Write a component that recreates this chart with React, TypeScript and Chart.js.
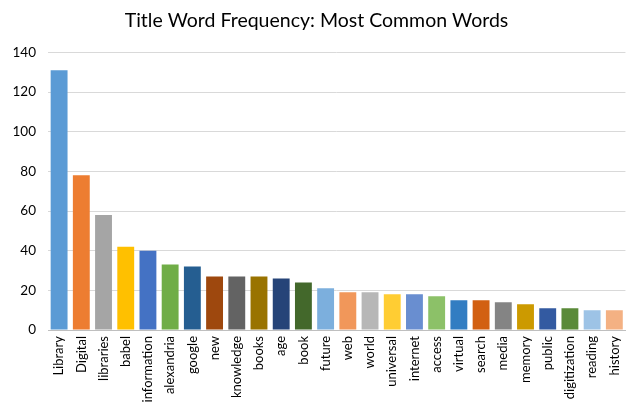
import React, { useEffect, useRef } from "react";
import { Chart, registerables } from "chart.js";

Chart.register(...registerables);

const categories = [
  "Library", "Digital", "libraries", "babel", "information", "alexandria", "google", "new",
  "knowledge", "books", "age", "book", "future", "web", "world", "universal", "internet",
  "access", "virtual", "search", "media", "memory", "public", "digitization", "reading", "history",
];
const frequencies = [131, 78, 58, 42, 40, 33, 32, 27, 27, 27, 26, 24, 21, 19, 19, 18, 18, 17, 15, 15, 14, 13, 11, 11, 10, 10];
const barColors = [
  "#5B9BD5", "#ED7D31", "#A5A5A5", "#FFC000", "#4472C4", "#70AD47", "#255E91", "#9E480E",
  "#636363", "#997300", "#264478", "#43682B", "#7CAFDD", "#F1975A", "#B7B7B7", "#FFCD33",
  "#698ED0", "#8CC168", "#327DC2", "#D26012", "#848484", "#CC9A00", "#335AA1", "#5A8A39",
  "#9DC3E6", "#F4B183",
];
const titleText = "Title Word Frequency: Most Common Words";
const yMax = 140;
const yStep = 20;

export default function App() {
  const ref = useRef<HTMLCanvasElement | null>(null);
  useEffect(() => {
    if (!ref.current) return;
    const chart = new Chart(ref.current, {
      type: "bar",
      data: {
        labels: categories,
        datasets: [
          {
            data: frequencies,
            backgroundColor: barColors,
            borderWidth: 0,
            categoryPercentage: 1,
            barPercentage: 0.76,
          },
        ],
      },
      options: {
        animation: false,
        responsive: false,
        maintainAspectRatio: false,
        layout: { padding: { left: 0, right: 3, top: 0, bottom: 0 } },
        plugins: {
          legend: { display: false },
          tooltip: { enabled: false },
          title: {
            display: true,
            text: titleText,
            color: "#000000",
            font: { family: "Lato", size: 19.5, weight: "normal" },
            padding: { top: 9, bottom: 20 },
          },
        },
        scales: {
          x: {
            grid: { display: false, drawTicks: false },
            border: { display: true, color: "#BFBFBF", width: 1 },
            ticks: {
              color: "#000000",
              font: { family: "Lato", size: 13 },
              minRotation: 90,
              maxRotation: 90,
              autoSkip: false,
              padding: 6,
            },
            afterFit: (axis: any) => {
              axis.height = 77;
            },
          },
          y: {
            min: 0,
            max: yMax,
            ticks: {
              stepSize: yStep,
              color: "#000000",
              font: { family: "Lato", size: 13.5 },
              padding: 12,
            },
            grid: { color: "#D9D9D9", lineWidth: 1, drawTicks: false },
            border: { display: false },
            afterFit: (axis: any) => {
              axis.width = 48;
            },
          },
        },
      },
    });
    return () => chart.destroy();
  }, []);
  return (
    <div style={{ position: "fixed", left: 0, top: 0, width: 636, height: 407, background: "#fff" }}>
      <canvas ref={ref} width={636} height={407} style={{ width: 636, height: 407 }} />
    </div>
  );
}
